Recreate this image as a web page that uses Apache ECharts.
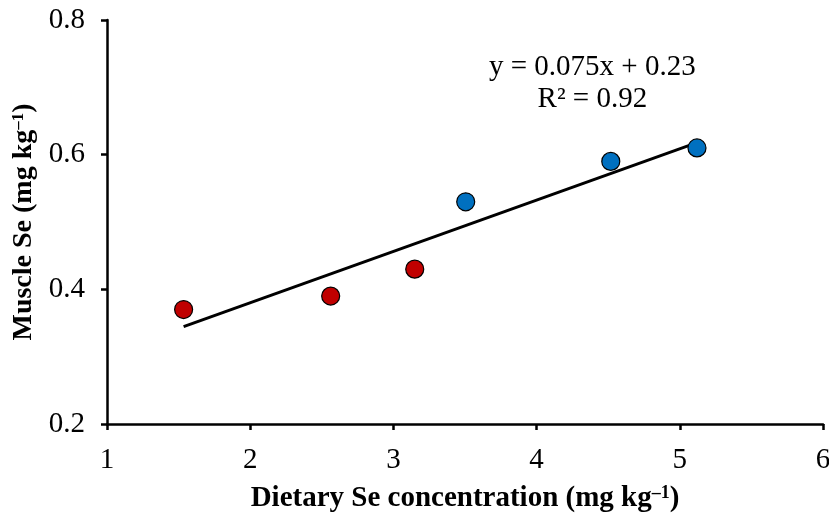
<!DOCTYPE html>
<html><head><meta charset="utf-8">
<script src="https://cdn.jsdelivr.net/npm/echarts@6/dist/echarts.min.js"></script>
<style>html,body{margin:0;padding:0;background:#fff}#c{width:829px;height:519px}</style>
</head><body><div id="c"></div>
<script>
var redX = [1.535, 2.562, 3.149];
var redY = [0.37, 0.39, 0.43];
var blueX = [3.505, 4.518, 5.12];
var blueY = [0.53, 0.59, 0.61];
var xTicks = [1, 2, 3, 4, 5, 6];
var yTicks = [0.2, 0.4, 0.6, 0.8];
var eqText = ['y = 0.075x + 0.23', 'R² = 0.92'];

var allX = redX.concat(blueX), allY = redY.concat(blueY);
var n = allX.length, mx = 0, my = 0;
for (var i = 0; i < n; i++) { mx += allX[i]; my += allY[i]; }
mx /= n; my /= n;
var sxy = 0, sxx = 0;
for (i = 0; i < n; i++) { sxy += (allX[i]-mx)*(allY[i]-my); sxx += (allX[i]-mx)*(allX[i]-mx); }
var b = sxy / sxx, a = my - b * mx;
var x0 = Math.min.apply(null, allX), x1 = Math.max.apply(null, allX);
var trend = [[x0, a + b*x0], [x1, a + b*x1]];

function pairs(xs, ys){ return xs.map(function(x,i){return [x, ys[i]];}); }
var FONT = '"Liberation Serif", "Times New Roman", serif';
var richX = {
  m: {fontFamily: FONT, fontSize: 29, fontWeight: 'bold', color: '#000'},
  s: {fontFamily: FONT, fontSize: 18, fontWeight: 'bold', color: '#000', verticalAlign: 'top'}
};
var richY = {
  m: {fontFamily: FONT, fontSize: 28, fontWeight: 'bold', color: '#000'},
  s: {fontFamily: FONT, fontSize: 17, fontWeight: 'bold', color: '#000', verticalAlign: 'top'}
};
var chart = echarts.init(document.getElementById('c'), null, {renderer: 'canvas'});
chart.setOption({
  animation: false,
  backgroundColor: '#fff',
  grid: {left: 107, right: 6, top: 20, bottom: 95, containLabel: false, outerBoundsMode: 'none'},
  xAxis: {
    type: 'value', min: 1, max: 6, interval: 1,
    name: '{m|Dietary Se concentration (mg kg}{s|–1}{m|)}',
    nameLocation: 'middle', nameGap: 60,
    nameTextStyle: {rich: richX},
    axisLine: {lineStyle: {color: '#000', width: 2.5}},
    axisTick: {show: true, length: 6, lineStyle: {color: '#000', width: 2.5}},
    splitLine: {show: false},
    axisLabel: {margin: 22, fontFamily: FONT, fontSize: 29, color: '#000',
      formatter: function(v){ return xTicks.indexOf(v) >= 0 ? String(v) : ''; }}
  },
  yAxis: {
    type: 'value', min: 0.2, max: 0.8, interval: 0.2,
    name: '{m|Muscle Se (mg kg}{s|–1}{m|)}',
    nameLocation: 'middle', nameGap: 68, nameRotate: 90,
    nameTextStyle: {rich: richY},
    axisLine: {show: true, lineStyle: {color: '#000', width: 2.5}},
    axisTick: {show: true, length: 6, lineStyle: {color: '#000', width: 2.5}},
    splitLine: {show: false},
    axisLabel: {margin: 22, fontFamily: FONT, fontSize: 29, color: '#000',
      formatter: function(v){ return yTicks.indexOf(+v.toFixed(1)) >= 0 ? v.toFixed(1) : ''; }}
  },
  graphic: [{
    type: 'text', left: 489, top: 51,
    style: {text: eqText.join('\n'), fontFamily: FONT, fontSize: 29, fill: '#000', textAlign: 'center', lineHeight: 32}
  }],
  series: [
    {type: 'line', data: trend, symbol: 'none', lineStyle: {color: '#000', width: 3}, z: 1},
    {type: 'scatter', data: pairs(redX, redY), symbolSize: 18,
     itemStyle: {color: '#C00000', borderColor: '#000', borderWidth: 1.2, opacity: 1}, z: 3},
    {type: 'scatter', data: pairs(blueX, blueY), symbolSize: 18,
     itemStyle: {color: '#0070C0', borderColor: '#000', borderWidth: 1.2, opacity: 1}, z: 3}
  ]
});
</script></body></html>
